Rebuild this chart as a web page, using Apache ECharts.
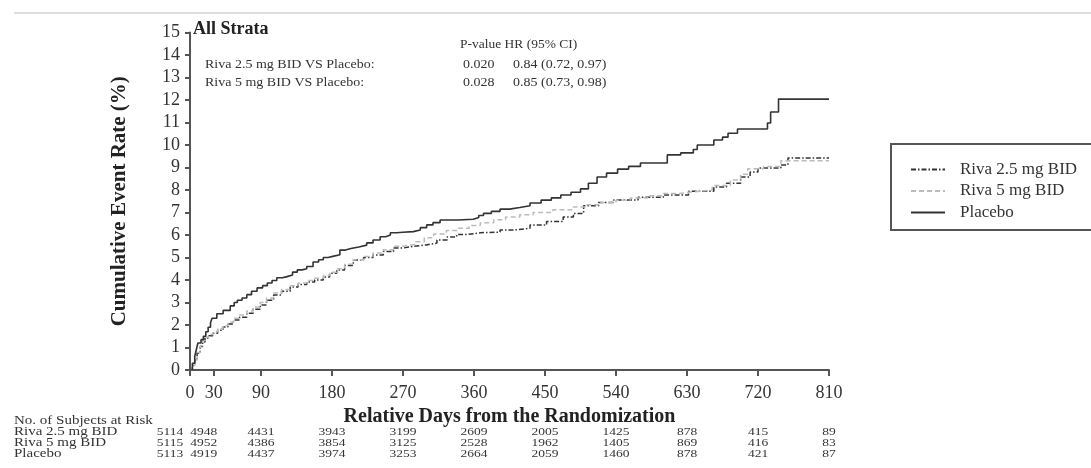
<!DOCTYPE html>
<html>
<head>
<meta charset="utf-8">
<script src="https://cdn.jsdelivr.net/npm/echarts@6/dist/echarts.min.js"></script>
<style>
  html, body { margin: 0; padding: 0; background: #fff; }
  #main { width: 1091px; height: 468px; }
</style>
</head>
<body>
<div id="main"></div>
<script>
// day / cumulative event rate (%)
var riva25 = [[0,0],[3,0.2],[6,0.44],[9,0.75],[13,1.04],[16,1.25],[19,1.42],[24,1.52],[29,1.63],[35,1.77],[42,1.91],[48,2.05],[55,2.22],[63,2.35],[72,2.52],[80,2.7],[89,2.89],[97,3.1],[106,3.33],[116,3.5],[127,3.69],[137,3.8],[148,3.91],[158,4.0],[169,4.13],[177,4.3],[186,4.44],[196,4.65],[207,4.89],[220,5.0],[232,5.11],[245,5.27],[258,5.42],[270,5.5],[283,5.56],[300,5.64],[313,5.78],[326,5.91],[338,6.02],[351,6.1],[368,6.13],[393,6.22],[410,6.3],[431,6.44],[452,6.6],[473,6.8],[486,6.96],[499,7.3],[518,7.45],[537,7.56],[568,7.68],[600,7.78],[632,7.95],[664,8.13],[680,8.3],[698,8.58],[710,8.8],[720,8.98],[749,9.11],[758,9.42],[810,9.42]];
var riva5 = [[0,0],[3,0.2],[6,0.45],[9,0.78],[13,1.08],[16,1.3],[19,1.47],[24,1.58],[29,1.7],[35,1.84],[42,1.98],[48,2.12],[55,2.3],[63,2.45],[72,2.62],[80,2.8],[89,3.0],[97,3.2],[106,3.42],[116,3.58],[127,3.75],[137,3.87],[148,3.98],[158,4.08],[169,4.2],[177,4.35],[186,4.5],[196,4.7],[207,4.9],[220,5.05],[232,5.2],[245,5.35],[258,5.5],[270,5.58],[285,5.7],[297,5.88],[309,6.05],[325,6.2],[340,6.3],[354,6.42],[368,6.55],[385,6.68],[400,6.8],[418,6.9],[435,7.0],[460,7.12],[486,7.25],[503,7.35],[520,7.45],[540,7.55],[558,7.65],[580,7.75],[600,7.85],[620,7.92],[640,8.0],[662,8.2],[685,8.45],[698,8.7],[707,8.95],[727,9.05],[749,9.3],[810,9.3]];
var placebo = [[0,0],[3,0.3],[6,0.6],[8,0.9],[10,1.2],[14,1.35],[17,1.5],[20,1.7],[23,1.9],[26,2.1],[28,2.3],[34,2.5],[42,2.65],[51,2.85],[56,3.0],[60,3.1],[66,3.2],[72,3.35],[78,3.5],[85,3.65],[92,3.75],[98,3.87],[104,3.98],[110,4.1],[117,4.15],[123,4.22],[130,4.35],[136,4.45],[142,4.5],[148,4.6],[156,4.8],[163,4.9],[169,5.0],[175,5.05],[181,5.12],[190,5.33],[197,5.4],[204,5.47],[214,5.55],[224,5.65],[232,5.78],[241,5.92],[248,6.0],[254,6.1],[262,6.12],[270,6.15],[283,6.22],[292,6.33],[300,6.45],[308,6.55],[317,6.67],[340,6.7],[359,6.78],[366,6.87],[372,6.96],[382,7.05],[393,7.15],[405,7.22],[418,7.3],[431,7.42],[445,7.55],[458,7.65],[470,7.78],[483,7.9],[495,8.05],[505,8.3],[516,8.58],[528,8.75],[542,8.93],[556,9.05],[571,9.2],[605,9.56],[622,9.65],[638,9.8],[643,10.0],[664,10.22],[675,10.35],[682,10.52],[694,10.71],[732,10.98],[736,11.47],[746,12.04],[810,12.04]];

var xTicks = [0,30,90,180,270,360,450,540,630,720,810];
var riskDays = [0,30,90,180,270,360,450,540,630,720,810];
var riskRiva25 = [5114,4948,4431,3943,3199,2609,2005,1425,878,415,89];
var riskRiva5 = [5115,4952,4386,3854,3125,2528,1962,1405,869,416,83];
var riskPlacebo = [5113,4919,4437,3974,3253,2664,2059,1460,878,421,87];
var groupNames = ['Riva 2.5 mg BID','Riva 5 mg BID','Placebo'];

var serif = 'Liberation Serif';
var myChart = echarts.init(document.getElementById('main'));

var option = {
    animation: false,
    grid: { left: 190, right: 262, top: 32.5, bottom: 98 },
    legend: {
        left: 905, top: 156, orient: 'vertical',
        itemWidth: 34, itemHeight: 12, itemGap: 4.5,
        data: groupNames,
        itemStyle: { opacity: 0 },
        textStyle: { fontFamily: serif, fontSize: 17, lineHeight: 17, color: '#333', padding: [0,0,0,10] }
    },
    xAxis: {
        type: 'value', min: 0, max: 810,
        name: 'Relative Days from the Randomization',
        nameLocation: 'middle', nameGap: 27,
        nameTextStyle: { fontFamily: serif, fontSize: 20, fontWeight: 'bold', color: '#222' },
        axisLine: { lineStyle: { color: '#555', width: 2 } },
        axisTick: { length: 6, lineStyle: { color: '#555', width: 2 }, customValues: xTicks },
        axisLabel: { fontFamily: serif, fontSize: 18, color: '#333', margin: 14, customValues: xTicks },
        splitLine: { show: false }
    },
    yAxis: {
        type: 'value', min: 0, max: 15, interval: 1,
        name: 'Cumulative Event Rate (%)',
        nameLocation: 'middle', nameGap: 60, nameRotate: 90,
        nameTextStyle: { fontFamily: serif, fontSize: 21, fontWeight: 'bold', color: '#222' },
        axisLine: { show: true, lineStyle: { color: '#555', width: 2 } },
        axisTick: { show: true, length: 5, lineStyle: { color: '#555', width: 2 } },
        axisLabel: { fontFamily: serif, fontSize: 18, color: '#333', margin: 10 },
        splitLine: { show: false }
    },
    series: [
        { name: groupNames[0], type: 'line', step: 'end', symbol: 'none', data: riva25,
          lineStyle: { color: '#333', width: 1.5, type: [5,2,1.5,2] }, itemStyle: { color: '#333' } },
        { name: groupNames[1], type: 'line', step: 'end', symbol: 'none', data: riva5,
          lineStyle: { color: '#bbb', width: 1.5, type: [5,3] }, itemStyle: { color: '#bbb' } },
        { name: groupNames[2], type: 'line', step: 'end', symbol: 'none', data: placebo,
          lineStyle: { color: '#333', width: 1.6 }, itemStyle: { color: '#333' } }
    ]
};
myChart.setOption(option);

// risk table and annotations, placed from the axis scale
function txt(x, y, s, size, opts) {
    opts = opts || {};
    return {
        type: 'text', x: x, y: y, silent: true, scaleY: opts.sy || 1,
        style: {
            text: s, fontFamily: serif, fontSize: size, fill: opts.fill || '#333',
            fontWeight: opts.bold ? 'bold' : 'normal',
            align: opts.align || 'left', verticalAlign: 'middle'
        }
    };
}
var els = [];
els.push({ type: 'line', shape: { x1: 14, y1: 13, x2: 1091, y2: 13 }, style: { stroke: '#ddd', lineWidth: 2 } });
els.push({ type: 'rect', shape: { x: 891, y: 144, width: 220, height: 86 }, style: { fill: 'none', stroke: '#555', lineWidth: 2 } });
els.push(txt(193, 29, 'All Strata', 18, { bold: true, fill: '#222' }));
els.push(txt(460, 45, 'P-value HR (95% CI)', 13.5, { sy: 0.9 }));
els.push(txt(205, 65, 'Riva 2.5 mg BID VS Placebo:', 14, { sy: 0.9 }));
els.push(txt(205, 83, 'Riva 5 mg BID VS Placebo:', 14, { sy: 0.9 }));
els.push(txt(463, 65, '0.020', 14, { sy: 0.9 }));
els.push(txt(513, 65, '0.84 (0.72, 0.97)', 14, { sy: 0.9 }));
els.push(txt(463, 83, '0.028', 14, { sy: 0.9 }));
els.push(txt(513, 83, '0.85 (0.73, 0.98)', 14, { sy: 0.9 }));

els.push(txt(14, 421, 'No. of Subjects at Risk', 15, { sy: 0.78 }));
var rowY = [432, 443, 454];
var rows = [riskRiva25, riskRiva5, riskPlacebo];
var shift = [-20, -10, 0, 0, 0, 0, 0, 0, 0, 0, 0];
for (var r = 0; r < rows.length; r++) {
    els.push(txt(14, rowY[r], groupNames[r], 15, { sy: 0.78 }));
    for (var i = 0; i < riskDays.length; i++) {
        var px = myChart.convertToPixel({ gridIndex: 0 }, [riskDays[i], 0])[0] + shift[i];
        els.push(txt(px, rowY[r], String(rows[r][i]), 13.5, { align: 'center', sy: 0.78 }));
    }
}
myChart.setOption({ graphic: { elements: els } });
</script>
</body>
</html>
